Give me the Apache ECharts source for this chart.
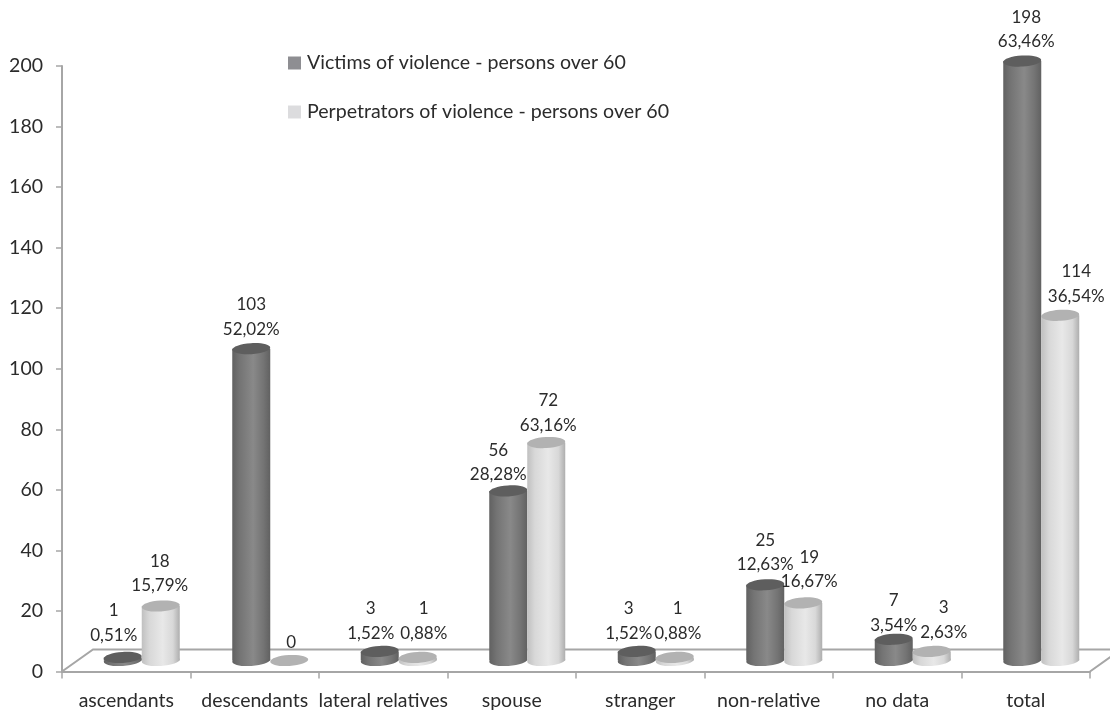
<!DOCTYPE html>
<html><head><meta charset="utf-8">
<style>html,body{margin:0;padding:0;background:#fff}#c{width:1110px;height:711px}</style>
<script src="https://cdn.jsdelivr.net/npm/echarts@6/dist/echarts.min.js"></script>
</head><body><div id="c"></div>
<script>
const categories = ['ascendants','descendants','lateral relatives','spouse','stranger','non-relative','no data','total'];
const victims = [1,103,3,56,3,25,7,198];
const perpetrators = [18,0,1,72,1,19,3,114];
const victimsPct = ['0,51%','52,02%','1,52%','28,28%','1,52%','12,63%','3,54%','63,46%'];
const perpetratorsPct = ['15,79%','','0,88%','63,16%','0,88%','16,67%','2,63%','36,54%'];
const yTicks = {min:0,max:200,interval:20};
const victimsName = 'Victims of violence - persons over 60';
const perpetratorsName = 'Perpetrators of violence - persons over 60';

// layout of the pseudo-3D drawing (not data)
const FONT = 'Lato';
const BAR_W = 38, DEPTH_X = 31, DEPTH_Y = 22, LIFT = 11, ELL_RY = 5.5, TILT = 0.06;
const victimNudge = [-9,0,-9,-10,-8,0,0,4];
const perpNudge = [-1,2,6,2,3,6,12,16];
const victimGap = [22,19,18,16,18,20,14,19];
const perpGap = [20,18,24,17,24,21,19,19];

const grad = (a,b,c,d) => new echarts.graphic.LinearGradient(0,0,1,0,[
  {offset:0,color:a},{offset:0.2,color:b},{offset:0.55,color:c},{offset:0.82,color:b},{offset:1,color:d}]);
const styleDark = {side:()=>grad('#616161','#747474','#898989','#616161'), top:'#5e5e5e'};
const styleLight = {side:()=>grad('#c0c0c0','#d8d8d8','#e8e8e8','#aeaeae'), top:'#b2b2b2'};

function cylinder(dir, look, pcts, nudges, gaps){
  return function(params, api){
    const i = api.value(0), v = api.value(1);
    const p0 = api.coord([i,0]), p1 = api.coord([i,v]);
    const cx = p0[0] + DEPTH_X/2 + dir*BAR_W/2;
    const yb = p0[1] - LIFT, yt = p1[1] - LIFT;
    const rx = BAR_W/2;
    const ell = (y,fill) => ({type:'ellipse',x:cx,y:y,rotation:TILT,
      shape:{cx:0,cy:0,rx:rx,ry:ELL_RY},style:{fill:fill}});
    const kids = [];
    if (v > 0){
      kids.push(ell(yb,look.side()));
      kids.push({type:'rect',shape:{x:cx-rx,y:yt,width:BAR_W,height:yb-yt},style:{fill:look.side()}});
    }
    kids.push(ell(yt,look.top));
    const label = pcts[i] ? v + '\n' + pcts[i] : String(v);
    kids.push({type:'text',z2:50,style:{text:label,x:cx+nudges[i],y:yt-gaps[i]+12,align:'center',verticalAlign:'bottom',
      fill:'#2b2b2b',font:'17px '+FONT,lineHeight:24.5}});
    return {type:'group',children:kids};
  };
}
const rows = arr => arr.map((v,i)=>[i,v]);

const chart = echarts.init(document.getElementById('c'),null,{renderer:'canvas'});
chart.setOption({
  animation:false,
  backgroundColor:'#fff',
  textStyle:{fontFamily:FONT},
  grid:{left:62,right:20,top:66,bottom:39.5,containLabel:false},
  legend:{left:283,top:48,orient:'vertical',itemGap:29,itemWidth:13,itemHeight:13,icon:'rect',
    selectedMode:false,textStyle:{fontFamily:FONT,fontSize:19.6,color:'#2b2b2b',padding:[0,0,0,1]},
    data:[victimsName,perpetratorsName]},
  xAxis:{type:'category',data:categories,boundaryGap:true,
    axisLine:{lineStyle:{color:'#a6a6a6',width:2}},
    axisTick:{show:true,length:7,alignWithLabel:false,lineStyle:{color:'#a6a6a6',width:1.5}},
    axisLabel:{interval:0,color:'#2b2b2b',fontFamily:FONT,fontSize:19.5,margin:19}},
  yAxis:{type:'value',min:yTicks.min,max:yTicks.max,interval:yTicks.interval,
    axisLine:{show:true,lineStyle:{color:'#a6a6a6',width:2}},
    axisTick:{show:true,length:6,lineStyle:{color:'#a6a6a6',width:1.5}},
    splitLine:{show:false},
    axisLabel:{color:'#2b2b2b',fontFamily:FONT,fontSize:19.5,margin:19}},
  series:[
    {name:'floor',type:'custom',silent:true,z:1,data:[[0,0]],encode:{x:0,y:1},
     renderItem(params,api){
       const g = params.coordSys, y0 = api.coord([0,0])[1], x0 = g.x, x1 = g.x+g.width;
       const st = {stroke:'#a6a6a6',lineWidth:2,fill:null};
       return {type:'group',children:[
         {type:'polyline',shape:{points:[[x0,y0],[x0+DEPTH_X,y0-DEPTH_Y],[x1+DEPTH_X,y0-DEPTH_Y],[x1,y0]]},style:st}
       ]};
     }},
    {name:victimsName,type:'custom',z:3,data:rows(victims),encode:{x:0,y:1},itemStyle:{color:'#8e8e92'},
     renderItem:cylinder(-1,styleDark,victimsPct,victimNudge,victimGap)},
    {name:perpetratorsName,type:'custom',z:4,data:rows(perpetrators),encode:{x:0,y:1},itemStyle:{color:'#dcdcde'},
     renderItem:cylinder(1,styleLight,perpetratorsPct,perpNudge,perpGap)}
  ]
});
</script></body></html>
